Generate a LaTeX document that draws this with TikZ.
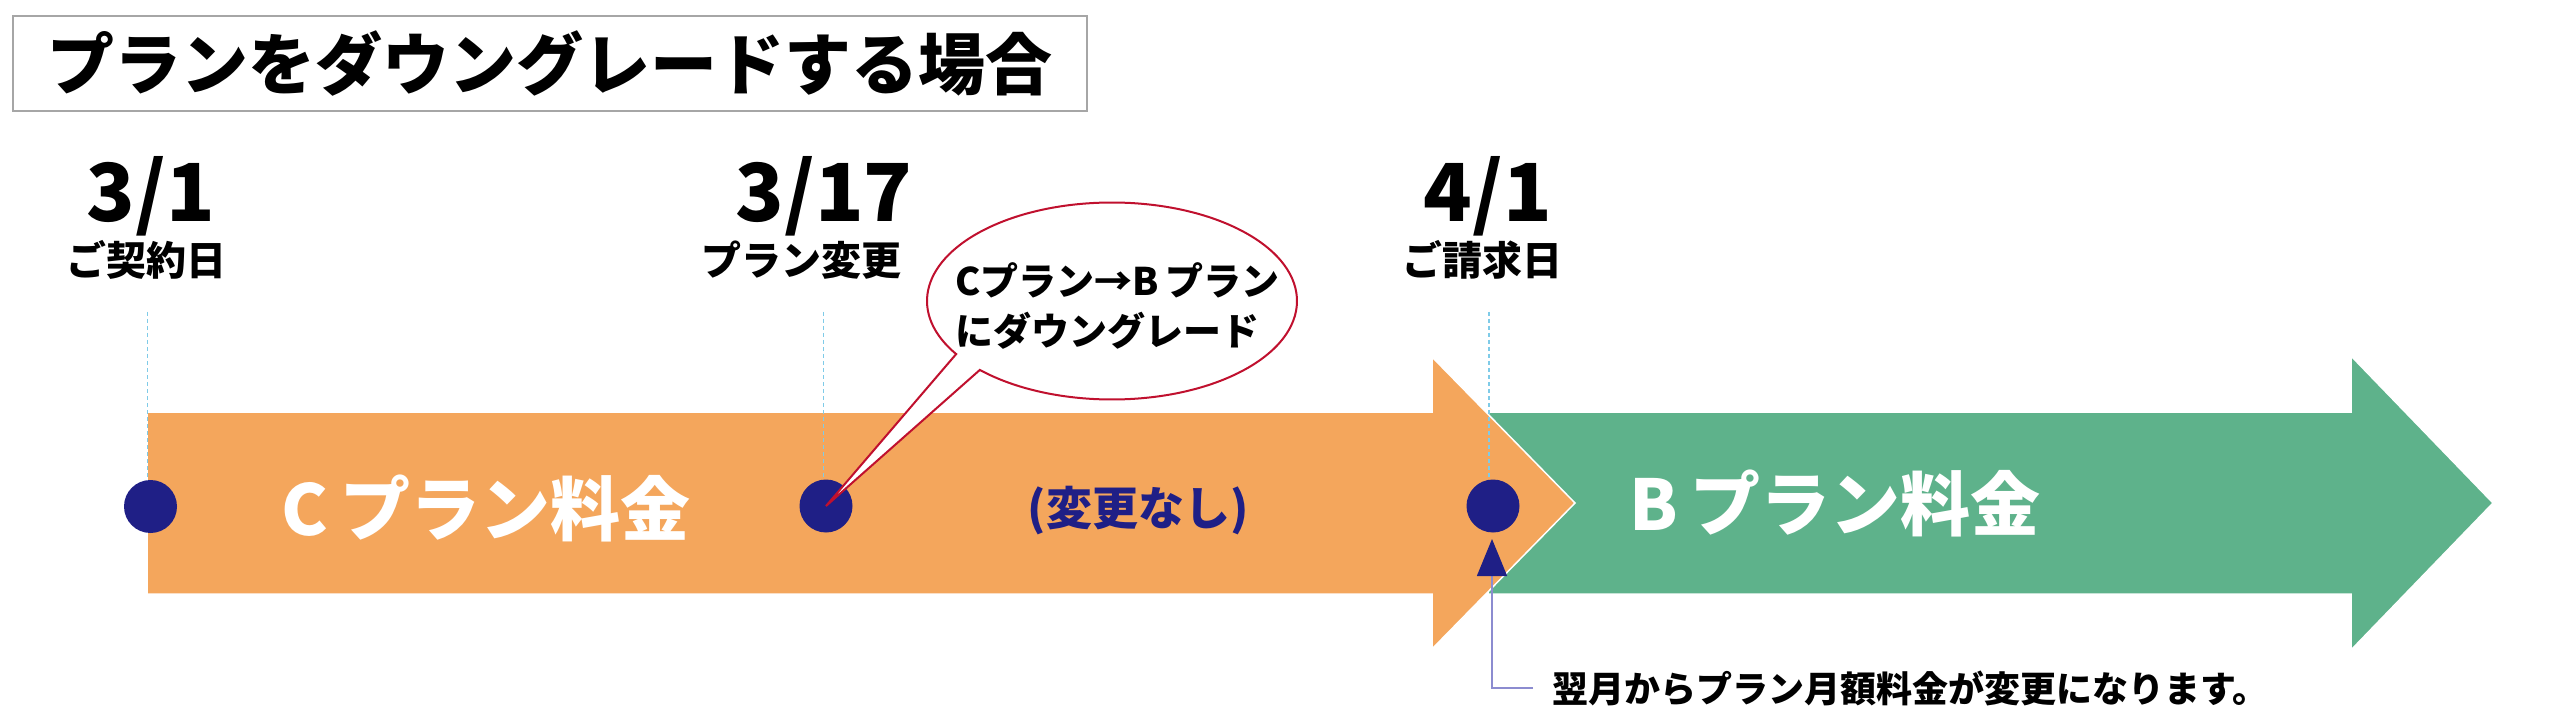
\documentclass[tikz,border=0pt]{standalone}
\usepackage{fontspec}
\setmainfont{Noto Sans CJK JP}
\usetikzlibrary{arrows.meta,shapes.geometric,calc}
\definecolor{orangeA}{HTML}{F4A65C}
\definecolor{greenA}{HTML}{5EB28B}
\definecolor{navyA}{HTML}{1F1F86}
\definecolor{redA}{HTML}{C0102E}
\definecolor{dashA}{HTML}{7FCBE8}
\definecolor{grayA}{HTML}{A6A6A6}
\definecolor{lineA}{HTML}{8C8CD0}
\newcommand{\fsz}[2]{\fontsize{#1}{#2}\selectfont\bfseries}
\begin{document}
\begin{tikzpicture}[x=1pt,y=-1pt,
  txt/.style={inner sep=0pt, outer sep=0pt},
  dotnode/.style={circle, fill=navyA, minimum size=53pt, inner sep=0pt},
  guide/.style={draw=dashA, line width=1.5pt, dash pattern=on 4pt off 3pt},
  band/.style={draw=white, line width=1.5pt},
  callout/.style={fill=white, draw=redA, line width=2pt, line join=miter},
  notelink/.style={draw=lineA, line width=1.5pt, -{Triangle[length=37pt, width=30pt, color=navyA]}}
]
\useasboundingbox (0,0) rectangle (2560,727);
\fill[white] (0,0) rectangle (2560,727);

% title
\node[txt, draw=grayA, line width=2pt, minimum width=1074pt, minimum height=95pt, font=\fsz{67}{80}] (title) at (550,63.5) {プランをダウングレードする場合};

% dates
\node[txt, font=\fsz{80}{86}] (d1) at (151,196) {3/1};
\node[txt, font=\fsz{80}{86}] (d2) at (824,196) {3/17};
\node[txt, font=\fsz{80}{86}] (d3) at (1488,196) {4/1};
\node[txt, font=\fsz{40}{45}] (s1) at (146,260) {ご契約日};
\node[txt, font=\fsz{40}{45}] (s2) at (801,260) {プラン変更};
\node[txt, font=\fsz{40}{45}] (s3) at (1482,260) {ご請求日};

% arrows
\path[band, fill=greenA] (1488,412) -- (2351,412) -- (2351,356) -- (2493,503) -- (2351,650) -- (2351,594) -- (1488,594) -- cycle;
\path[band, fill=orangeA] (147,412) -- (1432,412) -- (1432,357) -- (1575,503) -- (1432,649) -- (1432,594) -- (147,594) -- cycle;

% dots
\node[dotnode] (p1) at (150.5,506.5) {};
\node[dotnode] (p2) at (826,506) {};
\node[dotnode] (p3) at (1493,506) {};

% guides
\coordinate (g1) at (147.5,312);
\coordinate (g2) at (823.5,312);
\coordinate (g3) at (1489,312);
\draw[guide] (g1) -- (g1 |- p1.north);
\draw[guide] (g2) -- (g2 |- p2.north);
\draw[guide] (g3) -- (g3 |- p3.north);

% band labels
\node[txt, text=white, font=\fsz{70}{80}] (cband) at (486,508) {C\,プラン料金};
\node[txt, text=white, font=\fsz{70}{80}] (bband) at (1835,503) {B\,プラン料金};
\node[txt, text=navyA, font=\fsz{46}{50}] (nochg) at (1138,511) {(変更なし)};

% callout
\coordinate (cc) at (1112,301);
\path[callout] (p2.center) -- ($(cc)+(135.6:185 and 98.5)$) arc[start angle=135.6, end angle=-212.6, x radius=185, y radius=98.5] -- cycle;
\node[txt, font=\fsz{38}{50}, align=left, anchor=west] (ctext) at (955,306) {Cプラン→B\,プラン\\にダウングレード};

% note
\node[txt, font=\fsz{36}{40}, anchor=west] (note) at (1552,688) {翌月からプラン月額料金が変更になります。};
\coordinate (tt) at (1492,539);
\draw[notelink] ([xshift=-19pt]note.west) -| (tt);
\end{tikzpicture}
\end{document}
